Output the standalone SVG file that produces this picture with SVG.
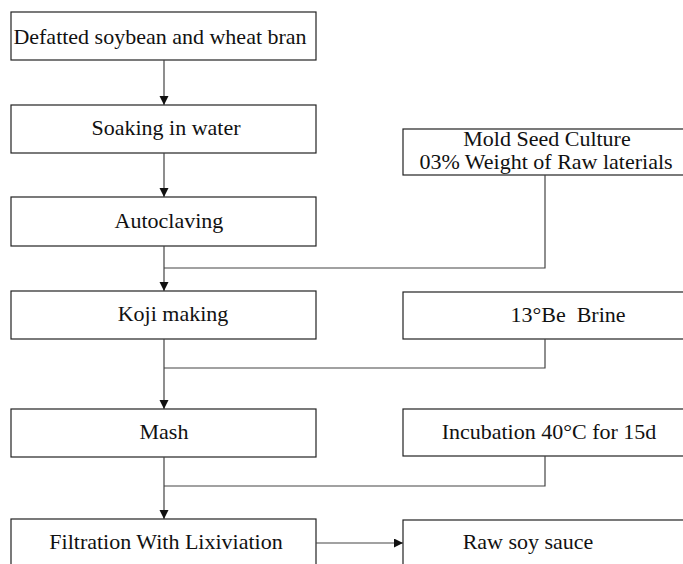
<svg xmlns="http://www.w3.org/2000/svg" width="683" height="564" viewBox="0 0 683 564">
<defs>
<style>
.box{fill:#fff;stroke:#222;stroke-width:1.2}
.lbl{font-family:"Liberation Serif","Times New Roman",serif;font-size:22px;fill:#111;text-anchor:middle}
.ln{fill:none;stroke:#444;stroke-width:1.2}
</style>
<marker id="ah" markerUnits="userSpaceOnUse" markerWidth="10" markerHeight="10" refX="9" refY="4.5" orient="auto">
<path d="M0,0 L9,4.5 L0,9 z" fill="#111"/>
</marker>
</defs>
<rect width="683" height="564" fill="#fff"/>
<g id="n1"><rect class="box" x="11" y="12" width="305" height="48"/><text class="lbl" x="160" y="44">Defatted soybean and wheat bran</text></g>
<g id="n2"><rect class="box" x="11" y="105" width="305" height="48"/><text class="lbl" x="166" y="135">Soaking in water</text></g>
<g id="n3"><rect class="box" x="11" y="197" width="305" height="49"/><text class="lbl" x="169" y="228">Autoclaving</text></g>
<g id="n4"><rect class="box" x="11" y="291" width="305" height="48"/><text class="lbl" x="173" y="321">Koji making</text></g>
<g id="n5"><rect class="box" x="11" y="409" width="305" height="48"/><text class="lbl" x="164" y="439">Mash</text></g>
<g id="n6"><rect class="box" x="11" y="519" width="305" height="60"/><text class="lbl" x="166" y="549">Filtration With Lixiviation</text></g>
<g id="m1"><rect class="box" x="403" y="129" width="290" height="46"/><text class="lbl" x="547" y="146">Mold Seed Culture</text><text class="lbl" x="546" y="169">03% Weight of Raw laterials</text></g>
<g id="m2"><rect class="box" x="403" y="292" width="290" height="47"/><text class="lbl" x="568" y="322" xml:space="preserve">13°Be  Brine</text></g>
<g id="m3"><rect class="box" x="403" y="409" width="290" height="47"/><text class="lbl" x="549" y="439">Incubation 40°C for 15d</text></g>
<g id="m4"><rect class="box" x="403" y="520" width="290" height="60"/><text class="lbl" x="528" y="549">Raw soy sauce</text></g>
<g id="connectors">
<line class="ln" x1="164" y1="60" x2="164" y2="105" marker-end="url(#ah)"/>
<line class="ln" x1="164" y1="153" x2="164" y2="197" marker-end="url(#ah)"/>
<line class="ln" x1="164" y1="246" x2="164" y2="291" marker-end="url(#ah)"/>
<polyline class="ln" points="545,175 545,268 164,268"/>
<line class="ln" x1="164" y1="339" x2="164" y2="409" marker-end="url(#ah)"/>
<polyline class="ln" points="545,339 545,368 164,368"/>
<line class="ln" x1="164" y1="457" x2="164" y2="519" marker-end="url(#ah)"/>
<polyline class="ln" points="545,456 545,486 164,486"/>
<line class="ln" x1="316" y1="543" x2="403" y2="543" marker-end="url(#ah)"/>
</g>
</svg>
